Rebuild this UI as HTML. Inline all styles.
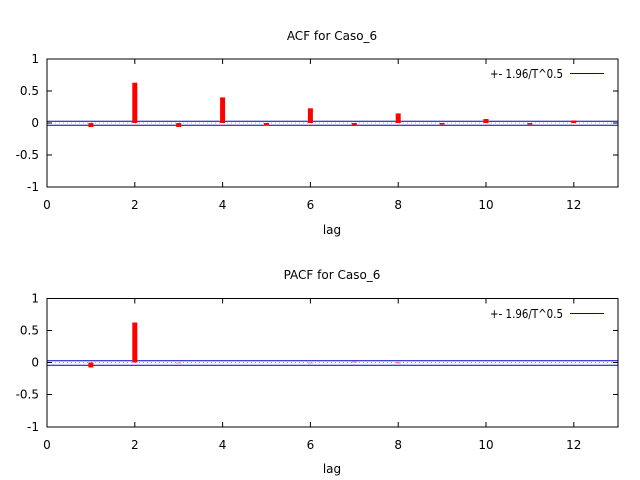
<!DOCTYPE html>
<html><head><style>body{margin:0;background:#fff}svg{display:block}text{font-family:"DejaVu Sans","Liberation Sans",sans-serif;font-size:12px;fill:#000}</style></head>
<body>
<svg width="640" height="480" viewBox="0 0 640 480" xmlns="http://www.w3.org/2000/svg">
<g>
<text x="332" y="40" text-anchor="middle">ACF for Caso_6</text>
<line x1="47" y1="123" x2="618" y2="123" stroke="#aaa" stroke-dasharray="1,3"/>
<line x1="47" y1="121.3" x2="618" y2="121.3" stroke="#0000cc" stroke-width="1"/>
<line x1="47" y1="125.3" x2="618" y2="125.3" stroke="#0000cc" stroke-width="1"/>
<g fill="#ff0000">
<rect x="88.4" y="123" width="5" height="4"/>
<rect x="132.3" y="82.7" width="5" height="40.3"/>
<rect x="176.2" y="123" width="5" height="4"/>
<rect x="220.1" y="97.4" width="5" height="25.6"/>
<rect x="264" y="123" width="5" height="2.5"/>
<rect x="307.9" y="108.3" width="5" height="14.7"/>
<rect x="351.8" y="123" width="5" height="2"/>
<rect x="395.7" y="113.4" width="5" height="9.6"/>
<rect x="439.6" y="123" width="5" height="1.5"/>
<rect x="483.5" y="119" width="5" height="4"/>
<rect x="527.4" y="123" width="5" height="1.5"/>
<rect x="571.3" y="120.5" width="5" height="2.5"/>
</g>
<rect x="47" y="59" width="571" height="128" fill="none" stroke="#000" stroke-width="1"/>
<g stroke="#000">
<line x1="47" y1="91" x2="52" y2="91"/><line x1="47" y1="123" x2="52" y2="123"/><line x1="47" y1="155" x2="52" y2="155"/>
<line x1="618" y1="91" x2="613" y2="91"/><line x1="618" y1="123" x2="613" y2="123"/><line x1="618" y1="155" x2="613" y2="155"/>
<line x1="134.8" y1="59" x2="134.8" y2="64"/><line x1="134.8" y1="187" x2="134.8" y2="182"/>
<line x1="222.6" y1="59" x2="222.6" y2="64"/><line x1="222.6" y1="187" x2="222.6" y2="182"/>
<line x1="310.4" y1="59" x2="310.4" y2="64"/><line x1="310.4" y1="187" x2="310.4" y2="182"/>
<line x1="398.2" y1="59" x2="398.2" y2="64"/><line x1="398.2" y1="187" x2="398.2" y2="182"/>
<line x1="486" y1="59" x2="486" y2="64"/><line x1="486" y1="187" x2="486" y2="182"/>
<line x1="573.8" y1="59" x2="573.8" y2="64"/><line x1="573.8" y1="187" x2="573.8" y2="182"/>
</g>
<g text-anchor="end">
<text x="39" y="63">1</text><text x="39" y="95">0.5</text><text x="39" y="127">0</text><text x="39" y="159">-0.5</text><text x="39" y="191">-1</text>
</g>
<g text-anchor="middle">
<text x="47" y="209">0</text><text x="134.8" y="209">2</text><text x="222.6" y="209">4</text><text x="310.4" y="209">6</text><text x="398.2" y="209">8</text><text x="486" y="209">10</text><text x="573.8" y="209">12</text>
<text x="332" y="234">lag</text>
</g>
<text x="490" y="78" textLength="73" lengthAdjust="spacingAndGlyphs">+- 1.96/T^0.5</text>
<line x1="570" y1="73.5" x2="604" y2="73.5" stroke="#0000cc"/>
</g>
<g>
<text x="332" y="279" text-anchor="middle">PACF for Caso_6</text>
<line x1="47" y1="362.5" x2="618" y2="362.5" stroke="#aaa" stroke-dasharray="1,3"/>
<line x1="47" y1="360.7" x2="618" y2="360.7" stroke="#0000cc"/>
<line x1="47" y1="365.3" x2="618" y2="365.3" stroke="#0000cc"/>
<g fill="#ff0000">
<rect x="88.4" y="362.5" width="5" height="5"/>
<rect x="132.3" y="322.5" width="5" height="40"/>
</g>
<g fill="#ff8080">
<rect x="176.2" y="362.5" width="5" height="1"/>
<rect x="307.9" y="362.5" width="5" height="1"/>
<rect x="351.8" y="361.5" width="5" height="1"/>
<rect x="395.7" y="362" width="5" height="1.5"/>
</g>
<rect x="47" y="298.5" width="571" height="128.5" fill="none" stroke="#000"/>
<g stroke="#000">
<line x1="47" y1="330.5" x2="52" y2="330.5"/><line x1="47" y1="362.5" x2="52" y2="362.5"/><line x1="47" y1="394.5" x2="52" y2="394.5"/>
<line x1="618" y1="330.5" x2="613" y2="330.5"/><line x1="618" y1="362.5" x2="613" y2="362.5"/><line x1="618" y1="394.5" x2="613" y2="394.5"/>
<line x1="134.8" y1="298.5" x2="134.8" y2="303.5"/><line x1="134.8" y1="427" x2="134.8" y2="422"/>
<line x1="222.6" y1="298.5" x2="222.6" y2="303.5"/><line x1="222.6" y1="427" x2="222.6" y2="422"/>
<line x1="310.4" y1="298.5" x2="310.4" y2="303.5"/><line x1="310.4" y1="427" x2="310.4" y2="422"/>
<line x1="398.2" y1="298.5" x2="398.2" y2="303.5"/><line x1="398.2" y1="427" x2="398.2" y2="422"/>
<line x1="486" y1="298.5" x2="486" y2="303.5"/><line x1="486" y1="427" x2="486" y2="422"/>
<line x1="573.8" y1="298.5" x2="573.8" y2="303.5"/><line x1="573.8" y1="427" x2="573.8" y2="422"/>
</g>
<g text-anchor="end">
<text x="39" y="302.5">1</text><text x="39" y="334.5">0.5</text><text x="39" y="366.5">0</text><text x="39" y="398.5">-0.5</text><text x="39" y="431">-1</text>
</g>
<g text-anchor="middle">
<text x="47" y="449">0</text><text x="134.8" y="449">2</text><text x="222.6" y="449">4</text><text x="310.4" y="449">6</text><text x="398.2" y="449">8</text><text x="486" y="449">10</text><text x="573.8" y="449">12</text>
<text x="332" y="473">lag</text>
</g>
<text x="490" y="318" textLength="73" lengthAdjust="spacingAndGlyphs">+- 1.96/T^0.5</text>
<line x1="570" y1="313.5" x2="604" y2="313.5" stroke="#0000cc"/>
</g>
</svg>
</body></html>
